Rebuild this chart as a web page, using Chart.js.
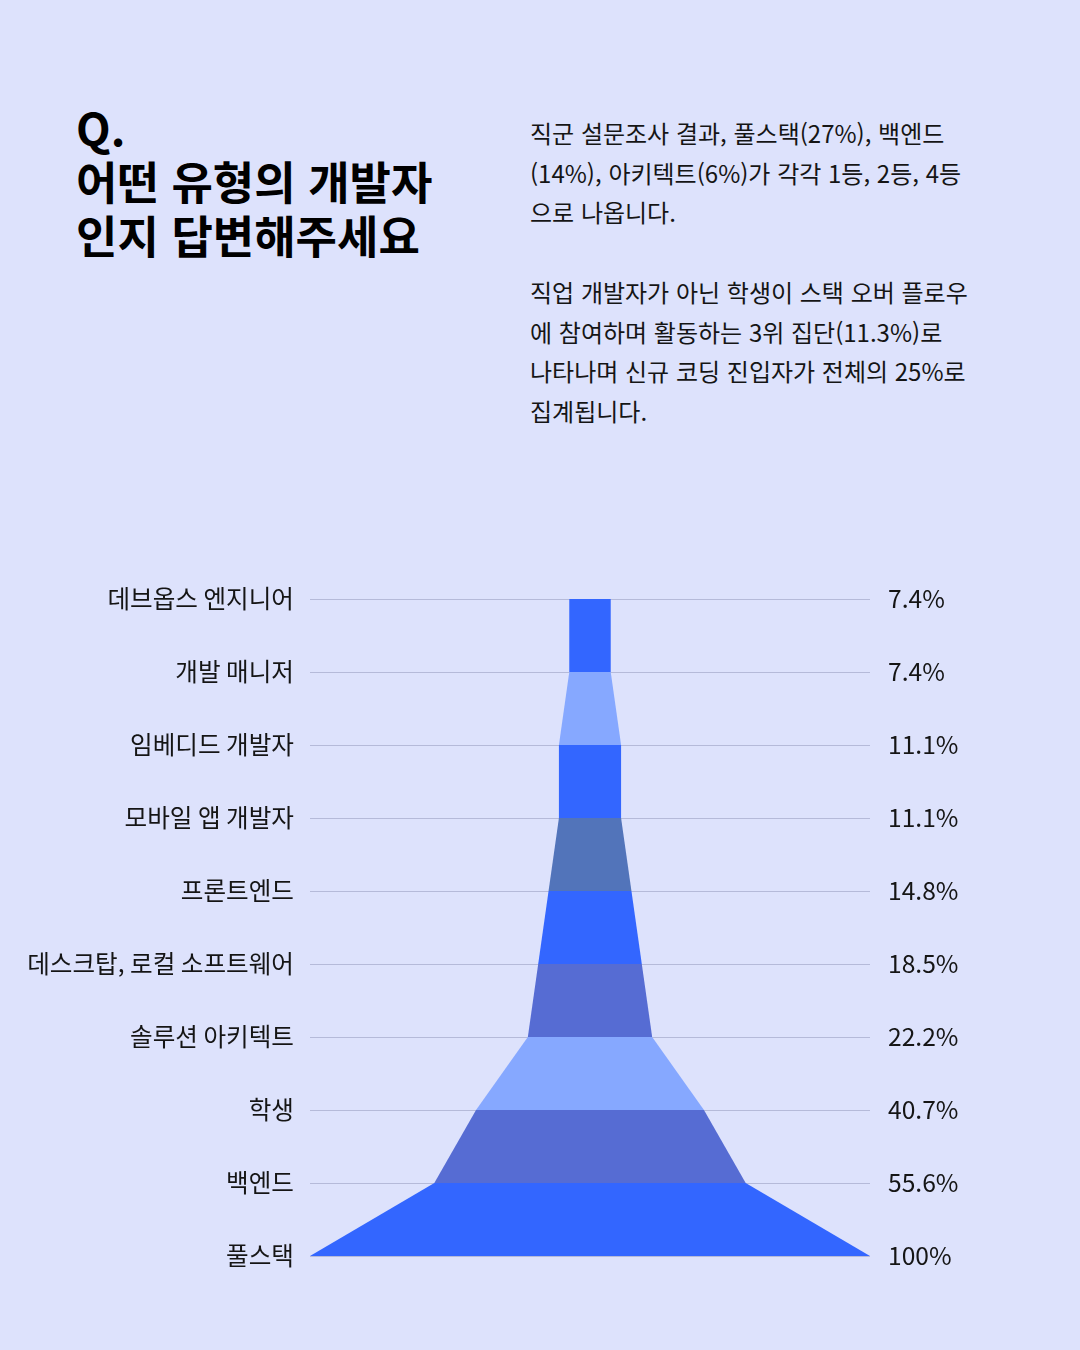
<!DOCTYPE html>
<html lang="ko">
<head>
<meta charset="utf-8">
<script src="https://cdn.jsdelivr.net/npm/chart.js@4.4.1/dist/chart.umd.min.js"></script>
<style>
  html, body { margin: 0; padding: 0; }
  body { width: 1080px; height: 1350px; background: #dde2fc; position: relative; overflow: hidden;
         font-family: "Noto Sans CJK KR", "Noto Sans", sans-serif; color: #111; }
  #title { position: absolute; left: 76px; top: 100px; margin: 0; font-size: 45px; line-height: 54px;
           font-weight: 700; color: #000; letter-spacing: 0; }
  #desc { position: absolute; left: 530px; top: 113px; margin: 0; font-size: 24px; line-height: 39.7px;
          font-weight: 400; color: #151515; letter-spacing: 0; }
  #wrap { position: absolute; left: 0; top: 559px; width: 1080px; height: 737px; }
</style>
</head>
<body>
<h1 id="title">Q.<br>어떤 유형의 개발자<br>인지 답변해주세요</h1>
<p id="desc">직군 설문조사 결과, 풀스택(27%), 백엔드<br>(14%), 아키텍트(6%)가 각각 1등, 2등, 4등<br>으로 나옵니다.<br><br>직업 개발자가 아닌 학생이 스택 오버 플로우<br>에 참여하며 활동하는 3위 집단(11.3%)로<br>나타나며 신규 코딩 진입자가 전체의 25%로<br>집계됩니다.</p>
<div id="wrap"><canvas id="c" width="1080" height="737"></canvas></div>
<script>
const categories = ["데브옵스 엔지니어", "개발 매니저", "임베디드 개발자", "모바일 앱 개발자", "프론트엔드",
                    "데스크탑, 로컬 소프트웨어", "솔루션 아키텍트", "학생", "백엔드", "풀스택"];
const values = [7.4, 7.4, 11.1, 11.1, 14.8, 18.5, 22.2, 40.7, 55.6, 100];
const valueLabels = ["7.4%", "7.4%", "11.1%", "11.1%", "14.8%", "18.5%", "22.2%", "40.7%", "55.6%", "100%"];
const bandColors = ["#3366ff", "#86a8ff", "#3366ff", "#5274ba", "#3366ff", "#566cd3", "#86a8ff", "#566cd3", "#3366ff"];

const datasets = [];
for (let i = 0; i < values.length - 1; i++) {
  const a = values[i] / 2, b = values[i + 1] / 2;
  datasets.push({
    data: [{x: -a, y: i}, {x: a, y: i}, {x: b, y: i + 1}, {x: -b, y: i + 1}],
    showLine: true,
    fill: 'shape',
    backgroundColor: bandColors[i],
    borderColor: 'rgba(0,0,0,0)',
    borderWidth: 0,
    pointRadius: 0,
    pointHoverRadius: 0,
    tension: 0
  });
}

const tickFont = { family: '"Noto Sans CJK KR", "Noto Sans", sans-serif', size: 24.6, weight: 400 };
const forceTicks = (scale) => { scale.ticks = categories.map((_, i) => ({ value: i })); };

new Chart(document.getElementById('c'), {
  type: 'scatter',
  data: { datasets },
  options: {
    responsive: false,
    animation: false,
    events: [],
    layout: { padding: { top: 40, bottom: 40, left: 0, right: 0 } },
    plugins: { legend: { display: false }, tooltip: { enabled: false } },
    scales: {
      x: { type: 'linear', min: -50, max: 50, display: false },
      y: {
        type: 'linear', position: 'left', min: 0, max: 9, reverse: true,
        afterBuildTicks: forceTicks,
        afterFit: (s) => { s.width = 310; },
        border: { display: false },
        grid: { color: '#b5bad9', lineWidth: 1, drawTicks: false },
        ticks: { padding: 16, color: '#151515', font: tickFont, autoSkip: false,
                 callback: (v) => categories[v] }
      },
      y2: {
        type: 'linear', position: 'right', min: 0, max: 9, reverse: true,
        afterBuildTicks: forceTicks,
        afterFit: (s) => { s.width = 210; },
        border: { display: false },
        grid: { display: false, drawTicks: false },
        ticks: { padding: 18, color: '#151515', font: tickFont, autoSkip: false,
                 callback: (v) => valueLabels[v] }
      }
    }
  }
});
</script>
</body>
</html>
